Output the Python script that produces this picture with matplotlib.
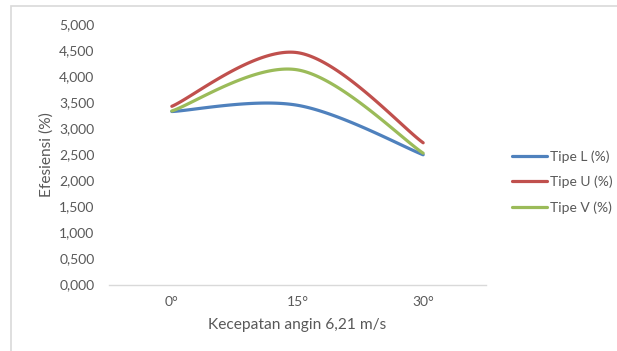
import numpy as np
import matplotlib
matplotlib.use("Agg")
import matplotlib.pyplot as plt
from matplotlib.ticker import FuncFormatter, MultipleLocator
from matplotlib.patches import Rectangle

categories = ["0°", "15°", "30°"]
tipe_l = [3.32, 3.44, 2.49]
tipe_u = [3.42, 4.45, 2.72]
tipe_v = [3.33, 4.12, 2.52]
series_names = ["Tipe L (%)", "Tipe U (%)", "Tipe V (%)"]
colors = ["#4F81BD", "#C0504D", "#9BBB59"]

plt.rcParams['font.family'] = ['Lato', 'DejaVu Sans']
W, H = 617, 351
fig = plt.figure(figsize=(W / 100, H / 100), dpi=100)

# outer chart border
fig.patches.append(Rectangle((11 / W, -0.1), 1.2, 1 - 6 / H + 0.1, transform=fig.transFigure,
                             fill=False, edgecolor="#D9D9D9", linewidth=1.2))

ax = fig.add_axes([109 / W, 1 - 284.5 / H, (486 - 109) / W, (284.5 - 24) / H])


def excel_smooth(xs, ys, n=60):
    P = np.column_stack([xs, ys]).astype(float)
    m = len(P)
    out = [P[0]]
    for i in range(m - 1):
        p_prev = P[i - 1] if i > 0 else P[i]
        p_next2 = P[i + 2] if i + 2 < m else P[i + 1]
        c1 = P[i] + (P[i + 1] - p_prev) / 6
        c2 = P[i + 1] - (p_next2 - P[i]) / 6
        t = np.linspace(0, 1, n)[1:, None]
        seg = ((1 - t) ** 3) * P[i] + 3 * ((1 - t) ** 2) * t * c1 + 3 * (1 - t) * t ** 2 * c2 + t ** 3 * P[i + 1]
        out.extend(seg)
    out = np.array(out)
    return out[:, 0], out[:, 1]


xs = np.arange(len(categories))
for ys, name, c in zip([tipe_l, tipe_u, tipe_v], series_names, colors):
    sx, sy = excel_smooth(xs, ys)
    ax.plot(sx, sy, color=c, linewidth=2.3, label=name, solid_capstyle='round')

ax.set_xlim(-0.5, len(categories) - 0.5)
ax.set_ylim(0, 5)
ax.yaxis.set_major_locator(MultipleLocator(0.5))
ax.yaxis.set_major_formatter(FuncFormatter(lambda v, p: f"{v:.3f}".replace('.', ',')))
ax.set_xticks(xs)
ax.set_xticklabels(categories)
for s in ["top", "right", "left"]:
    ax.spines[s].set_visible(False)
ax.spines["bottom"].set_color("#D9D9D9")
ax.spines["bottom"].set_linewidth(1.0)
ax.tick_params(axis='both', length=0, colors="#595959", labelsize=10)
ax.tick_params(axis='y', pad=10.5)
ax.tick_params(axis='x', pad=8.5)
ax.set_xlabel("Kecepatan angin 6,21 m/s", fontsize=11.2, color="#595959", labelpad=7)
ax.set_ylabel("Efesiensi (%)", fontsize=11.2, color="#595959", labelpad=4)

leg = fig.legend(loc='center left', bbox_to_anchor=(512 / W, 1 - 182 / H), frameon=False,
                 borderaxespad=0, borderpad=0,
                 fontsize=10, handlelength=2.55, handletextpad=0.15, labelspacing=0.95,
                 labelcolor="#595959")

fig.savefig("out.png", dpi=100)
